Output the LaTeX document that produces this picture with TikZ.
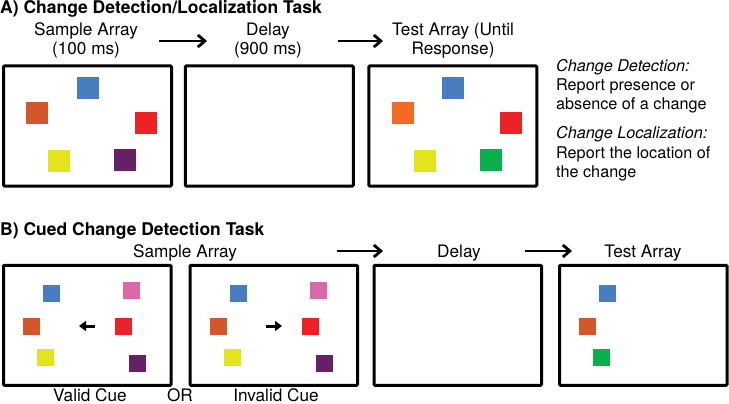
\documentclass[tikz,border=0pt]{standalone}
\usepackage{fontspec}
\setmainfont{TeX Gyre Heros}
\usetikzlibrary{arrows.meta}
\definecolor{cblue}{RGB}{72,126,192}
\definecolor{corange}{RGB}{210,87,42}
\definecolor{corangeT}{RGB}{242,106,36}
\definecolor{cred}{RGB}{236,34,39}
\definecolor{cyellow}{RGB}{228,228,28}
\definecolor{cpurple}{RGB}{102,32,102}
\definecolor{cgreen}{RGB}{10,176,76}
\definecolor{cpink}{RGB}{220,104,168}
\begin{document}
\begin{tikzpicture}[x=1pt,y=-1pt,
  screen/.style={draw,line width=3pt,rounded corners=1pt,inner sep=0pt,minimum width=168pt,minimum height=120pt},
  lbl/.style={anchor=base,inner sep=0pt,font=\fontsize{17.2}{19}\selectfont},
  ttl/.style={anchor=base west,inner sep=0pt,font=\fontsize{17.5}{19}\selectfont\bfseries},
  note/.style={anchor=base west,inner sep=0pt,font=\fontsize{16.2}{19}\selectfont},
  flow/.style={line width=2.8pt,-{Straight Barb[length=7pt,width=12pt,line width=2.8pt]}},
  cue/.style={line width=3pt,-{Triangle[length=7pt,width=10pt]}}]
\useasboundingbox (0,0) rectangle (729,404);
% ---------- Panel A ----------
\node[ttl] (tA) at (0,13.5) {A) Change Detection/Localization Task};
\node[lbl] (sa1) at (86,36) {Sample Array};
\node[lbl] (sa2) at (86,55) {(100 ms)};
\node[lbl] (de1) at (268,36) {Delay};
\node[lbl] (de2) at (268,55) {(900 ms)};
\node[lbl] (te1) at (453,36) {Test Array (Until};
\node[lbl] (te2) at (453,55) {Response)};
\coordinate (a1s) at (159,41); \coordinate (a1e) at (207,41);
\coordinate (a2s) at (338,41); \coordinate (a2e) at (383,41);
\draw[flow] (a1s) -- (a1e);
\draw[flow] (a2s) -- (a2e);
\node[screen] (A1) at (87.5,126) {};
\node[screen] (A2) at (269.25,126) {};
\node[screen] (A3) at (452.75,126) {};
% squares A1
\fill[cblue] (77,77) rectangle ++(22,22);
\fill[corange] (26,102) rectangle ++(22,22);
\fill[cred] (135,112) rectangle ++(22,22);
\fill[cyellow] (48,150) rectangle ++(22,22);
\fill[cpurple] (114,149) rectangle ++(22,22);
% squares A3
\fill[cblue] (442,77) rectangle ++(22,22);
\fill[corangeT] (392,102) rectangle ++(22,22);
\fill[cred] (500,112) rectangle ++(22,22);
\fill[cyellow] (414,150) rectangle ++(22,22);
\fill[cgreen] (480,149) rectangle ++(22,22);
% notes
\node[note,font=\fontsize{16.2}{19}\selectfont\itshape] (n1) at (556,72) {Change Detection:};
\node[note] (n2) at (556,91) {Report presence or};
\node[note] (n3) at (556,110) {absence of a change};
\node[note,font=\fontsize{16.2}{19}\selectfont\itshape] (n4) at (556,139) {Change Localization:};
\node[note] (n5) at (556,158) {Report the location of};
\node[note] (n6) at (556,177) {the change};
% ---------- Panel B ----------
\node[ttl] (tB) at (0,235) {B) Cued Change Detection Task};
\node[lbl] (sb) at (185,257) {Sample Array};
\node[lbl] (db) at (459,257) {Delay};
\node[lbl] (tb) at (643,257) {Test Array};
\coordinate (b1s) at (337,251); \coordinate (b1e) at (383,251);
\coordinate (b2s) at (525,251); \coordinate (b2e) at (572,251);
\draw[flow] (b1s) -- (b1e);
\draw[flow] (b2s) -- (b2e);
\node[screen,minimum width=167.5pt] (B1) at (87.25,325.25) {};
\node[screen,minimum width=167.5pt] (B2) at (273.75,325.25) {};
\node[screen,minimum width=167.5pt] (B3) at (457.75,325.25) {};
\node[screen,minimum width=167.5pt] (B4) at (643.25,325.25) {};
% squares B1
\fill[cblue] (43,285) rectangle ++(17,17);
\fill[cpink] (123,282) rectangle ++(17,17);
\fill[corange] (23,318) rectangle ++(17,17);
\fill[cred] (115,318) rectangle ++(17,17);
\fill[cyellow] (37,349) rectangle ++(17,17);
\fill[cpurple] (129,355) rectangle ++(17,17);
% squares B2
\fill[cblue] (230,285) rectangle ++(17,17);
\fill[cpink] (310,282) rectangle ++(17,17);
\fill[corange] (210,318) rectangle ++(17,17);
\fill[cred] (302,318) rectangle ++(17,17);
\fill[cyellow] (224,349) rectangle ++(17,17);
\fill[cpurple] (316,355) rectangle ++(17,17);
% squares B4
\fill[cblue] (599,285) rectangle ++(17,17);
\fill[corange] (579,318) rectangle ++(17,17);
\fill[cgreen] (593,349) rectangle ++(17,17);
% cue arrows
\coordinate (c1s) at (95,326); \coordinate (c1e) at (79,326);
\coordinate (c2s) at (266,326); \coordinate (c2e) at (282,326);
\draw[cue] (c1s) -- (c1e);
\draw[cue] (c2s) -- (c2e);
% bottom labels
\node[lbl] (vc) at (90,401.5) {Valid Cue};
\node[lbl] (or) at (180,401.5) {OR};
\node[lbl] (ic) at (276,401.5) {Invalid Cue};
\end{tikzpicture}
\end{document}
